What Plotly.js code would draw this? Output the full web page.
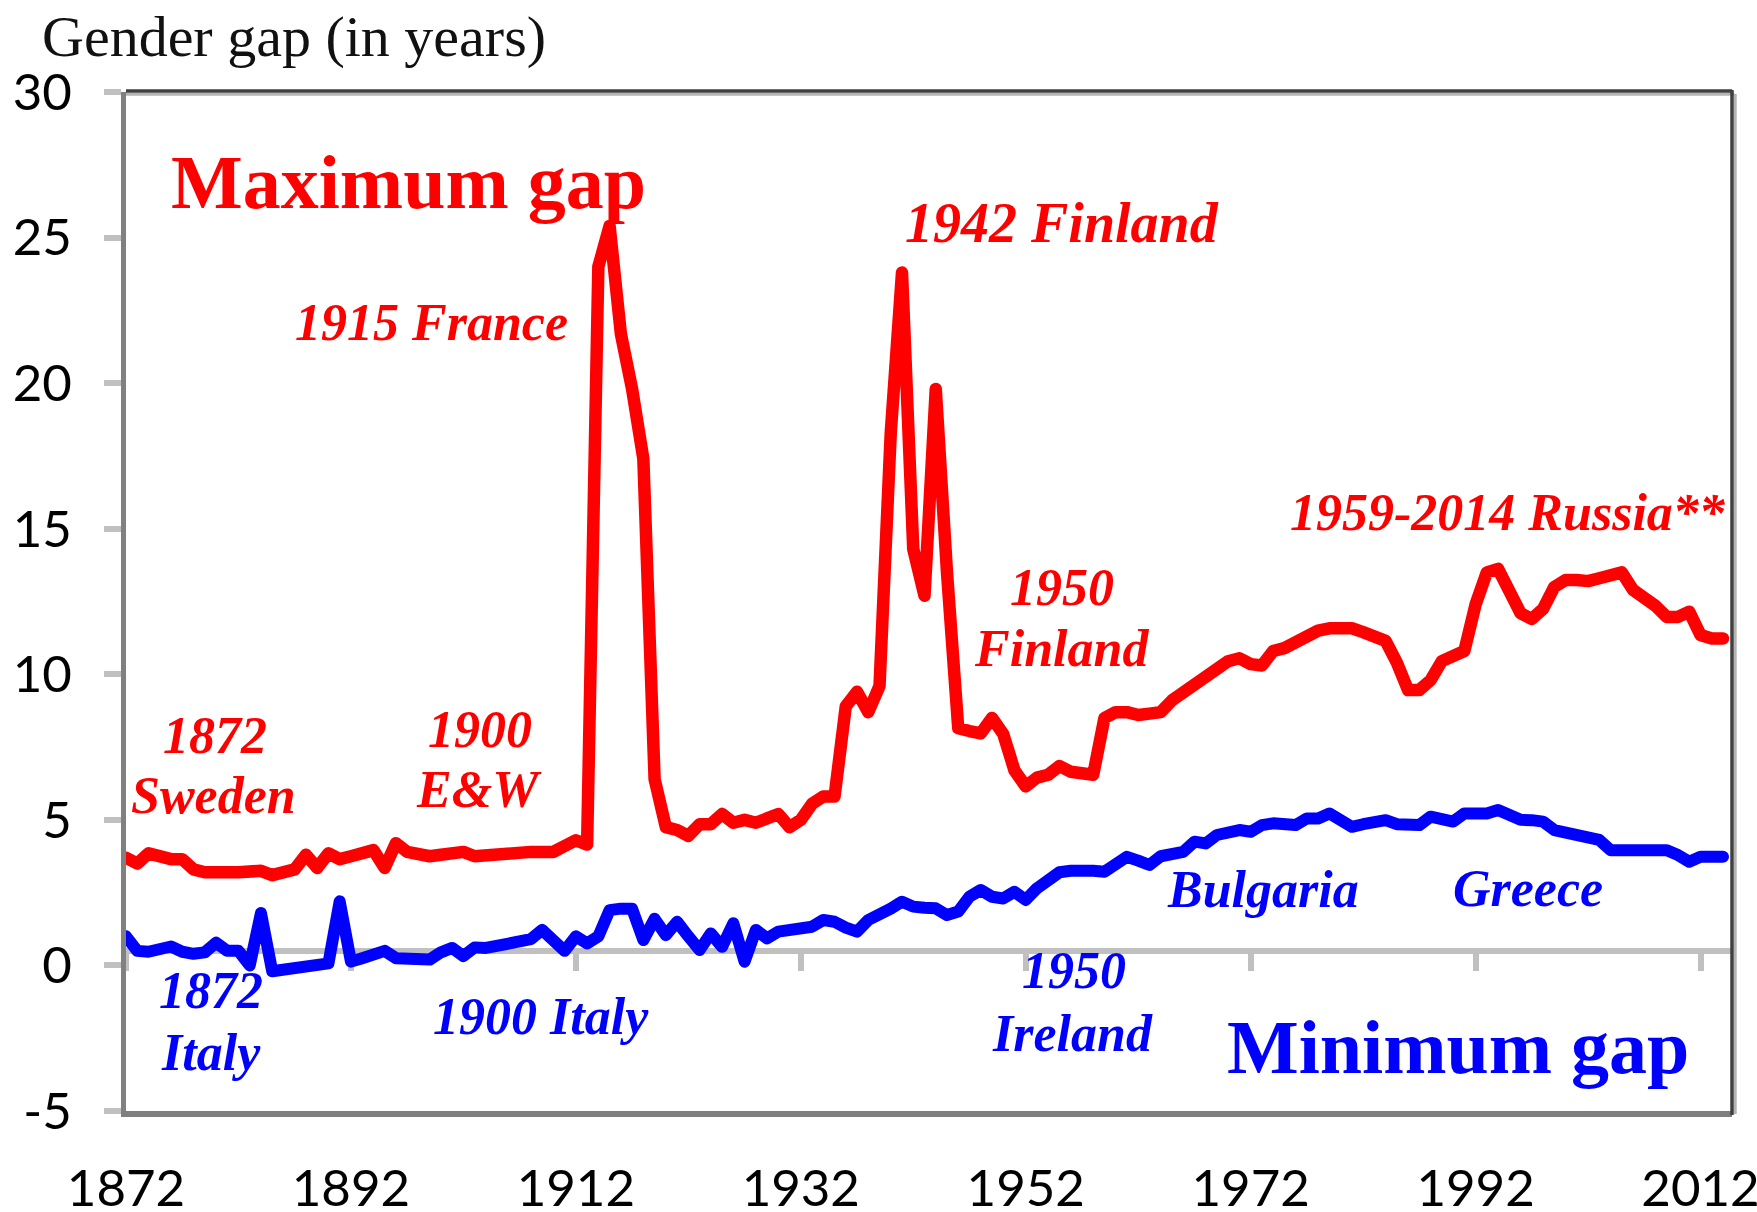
<!DOCTYPE html>
<html>
<head>
<meta charset="utf-8">
<script src="https://cdn.plot.ly/plotly-3.0.1.min.js"></script>
<style>
  html, body { margin: 0; padding: 0; background: #ffffff; }
  #chart { width: 1757px; height: 1212px; }
  .js-line { stroke-linejoin: round; stroke-linecap: round; }
</style>
</head>
<body>
<div id="chart"></div>
<script>
// ---- Data ----
const firstYear = 1872;
const lastYear = 2014;

// Maximum gender gap in life expectancy (years), 1872-2014
const maxGap = [
  3.7, 3.5, 3.85, 3.7, 3.65, 3.65, 3.3, 3.2,                 // 1872-1879
  3.15, 3.2, 3.2, 3.25, 3.25, 3.1, 3.15, 3.3, 3.8, 3.35,      // 1880s
  3.85, 3.65, 3.75, 3.9, 3.96, 3.35, 4.2, 3.9, 3.8, 3.75,     // 1890s
  3.8, 3.85, 3.9, 3.75, 3.8, 3.85, 3.85, 3.9, 3.9, 3.9,       // 1900s
  3.9, 4.1, 4.3, 4.15, 24.0, 25.4, 21.7, 19.8, 17.4, 6.4,     // 1910s
  4.75, 4.65, 4.45, 4.85, 4.85, 5.2, 4.9, 5.0, 4.9, 5.05,     // 1920s
  5.2, 4.75, 5.0, 5.55, 5.8, 5.8, 8.9, 9.4, 8.7, 9.6,         // 1930s
  18.3, 23.8, 14.3, 12.7, 19.8, 13.5, 8.15, 8.05, 7.97, 8.5,  // 1940s
  7.95, 6.7, 6.15, 6.45, 6.55, 6.85, 6.65, 6.6, 6.55, 8.5,    // 1950s
  8.7, 8.7, 8.6, 8.65, 8.7, 9.1, 9.35, 9.6, 9.95, 10.2,       // 1960s
  10.45, 10.55, 10.35, 10.3, 10.8, 10.9, 11.1, 11.4, 11.5, 11.58, // 1970s
  11.6, 11.58, 11.45, 11.3, 11.15, 10.4, 9.46, 9.46, 9.8, 10.45,  // 1980s
  10.66, 10.8, 12.4, 13.5, 13.62, 12.8, 12.1, 11.9, 12.25, 13.0,  // 1990s
  13.24, 13.24, 13.2, 13.3, 13.45, 13.5, 12.9, 12.65, 12.35, 11.97, // 2000s
  11.97, 12.15, 11.35, 11.23, 11.23                           // 2010-2014
];

// Minimum gender gap in life expectancy (years), 1872-2014
const minGap = [
  1.0, 0.5, 0.47, 0.6, 0.65, 0.47, 0.4, 0.45,                 // 1872-1879
  0.78, 0.5, 0.5, 0.0, 1.8, -0.2, -0.15, -0.1, 0.05, 0.1,     // 1880s
  0.07, 2.2, 0.13, 0.25, 0.35, 0.5, 0.25, 0.2, 0.2, 0.2,      // 1890s
  0.45, 0.6, 0.32, 0.62, 0.6, 0.68, 0.7, 0.75, 0.9, 1.22,     // 1900s
  0.85, 0.5, 1.0, 0.76, 1.0, 1.9, 1.95, 1.95, 0.87, 1.6,      // 1910s
  1.04, 1.5, 1.0, 0.53, 1.1, 0.64, 1.45, 0.13, 1.22, 0.93,    // 1920s
  1.16, 1.22, 1.27, 1.33, 1.56, 1.5, 1.3, 1.16, 1.56, 1.73,   // 1930s
  1.95, 2.19, 2.02, 1.98, 1.96, 1.73, 1.85, 2.36, 2.59, 2.36, // 1940s
  2.3, 2.53, 2.25, 2.65, 2.93, 3.2, 3.25, 3.28, 3.25, 3.22,   // 1950s
  3.45, 3.73, 3.6, 3.45, 3.75, 3.85, 3.9, 4.25, 4.19, 4.48,   // 1960s
  4.55, 4.65, 4.59, 4.82, 4.88, 4.88, 4.82, 5.05, 5.05, 5.22, // 1970s
  4.94, 4.76, 4.85, 4.9, 4.99, 4.85, 4.82, 4.82, 5.11, 5.0,   // 1980s
  4.94, 5.22, 5.22, 5.22, 5.34, 5.22, 5.0, 4.99, 4.94, 4.65,  // 1990s
  4.55, 4.48, 4.4, 4.31, 3.96, 3.96, 3.96, 3.96, 3.96, 3.96,  // 2000s
  3.79, 3.56, 3.73, 3.68, 3.73                                // 2010-2014
];

const xTickVals = [1872, 1892, 1912, 1932, 1952, 1972, 1992, 2012];
const yTickVals = [-5, 0, 5, 10, 15, 20, 25, 30];

// Text labels in the chart
const maxLabels = [
  { text: 'Maximum gap', x: 1897.1, y: 26.9, size: 76 },
  { text: '1915 France', x: 1899.2, y: 22.1, size: 52 },
  { text: '1942 Finland', x: 1955.2, y: 25.5, size: 56 },
  { text: '1872', x: 1879.9, y: 7.9, size: 52 },
  { text: 'Sweden', x: 1879.8, y: 5.85, size: 52 },
  { text: '1900', x: 1903.5, y: 8.1, size: 52 },
  { text: 'E&W', x: 1903.4, y: 6.05, size: 52 },
  { text: '1950', x: 1955.2, y: 12.99, size: 52 },
  { text: 'Finland', x: 1955.2, y: 10.90, size: 52 },
  { text: '1959-2014 Russia**', x: 1994.9, y: 15.55, size: 52 }
];
const minLabels = [
  { text: 'Minimum gap', x: 1990.4, y: -2.8, size: 76 },
  { text: '1872', x: 1879.6, y: -0.85, size: 52 },
  { text: 'Italy', x: 1879.6, y: -3.0, size: 52 },
  { text: '1900 Italy', x: 1908.9, y: -1.76, size: 52 },
  { text: '1950', x: 1956.3, y: -0.19, size: 52 },
  { text: 'Ireland', x: 1956.2, y: -2.33, size: 52 },
  { text: 'Bulgaria', x: 1973.1, y: 2.6, size: 52 },
  { text: 'Greece', x: 1996.7, y: 2.65, size: 52 }
];

// ---- Build chart ----
const years = [];
for (let yr = firstYear; yr <= lastYear; yr++) years.push(yr);

const traces = [
  {
    x: years, y: maxGap, type: 'scatter', mode: 'lines',
    line: { color: '#ff0000', width: 12.5 },
    hoverinfo: 'x+y', showlegend: false
  },
  {
    x: years, y: minGap, type: 'scatter', mode: 'lines',
    line: { color: '#0000ff', width: 12 },
    hoverinfo: 'x+y', showlegend: false
  },
  {
    x: [], y: [], xaxis: 'x2', yaxis: 'y', type: 'scatter', mode: 'lines',
    hoverinfo: 'skip', showlegend: false
  }
];

function mkAnn(l, color) {
  return {
    text: l.text, x: l.x, y: l.y, xref: 'x', yref: 'y',
    xanchor: 'center', yanchor: 'middle', showarrow: false,
    font: { family: 'Liberation Serif, Times New Roman, serif', size: l.size,
            color: color, weight: 'bold', style: l.size > 60 ? 'normal' : 'italic' }
  };
}
const annotations = maxLabels.map(l => mkAnn(l, '#ff0000'))
  .concat(minLabels.map(l => mkAnn(l, '#0000ff')));

const tickFont = { family: 'Lato, Open Sans, sans-serif', size: 51, color: '#000000' };
const xRange = [firstYear, 2014.8];

const layout = {
  width: 1757, height: 1212,
  margin: { l: 126, r: 25, t: 92, b: 101, pad: 0 },
  paper_bgcolor: '#ffffff', plot_bgcolor: '#ffffff',
  showlegend: false,
  title: {
    text: 'Gender gap (in years)',
    x: 42 / 1757, xanchor: 'left', xref: 'container',
    y: 1 - 36 / 1212, yanchor: 'middle', yref: 'container',
    font: { family: 'Liberation Serif, Times New Roman, serif', size: 58, color: '#111111' }
  },
  xaxis: {
    range: xRange, tickmode: 'array', tickvals: xTickVals,
    ticktext: xTickVals.map(String),
    ticks: '', showgrid: false, zeroline: false,
    showline: true, linecolor: '#7f7f7f', linewidth: 6,
    tickfont: tickFont, ticklabelstandoff: 28, ticklabeloverflow: 'allow',
    fixedrange: true
  },
  xaxis2: {
    overlaying: 'x', anchor: 'free', position: 0.1572, side: 'bottom',
    range: xRange, tickmode: 'array', tickvals: xTickVals,
    showticklabels: false, ticks: 'outside', ticklen: 17, tickwidth: 6,
    tickcolor: '#c0c0c0', showline: true, linecolor: '#c0c0c0', linewidth: 6,
    showgrid: false, zeroline: false, layer: 'below traces', fixedrange: true
  },
  yaxis: {
    range: [-5, 30], tickmode: 'array', tickvals: yTickVals,
    ticktext: yTickVals.map(String),
    ticks: 'outside', ticklen: 17, tickwidth: 6, tickcolor: '#c0c0c0',
    showline: true, linecolor: '#808080', linewidth: 5,
    showgrid: false, zeroline: false,
    tickfont: tickFont, ticklabelstandoff: 22, fixedrange: true
  },
  shapes: [
    { type: 'line', xref: 'paper', yref: 'paper', x0: 0, x1: 1.0015, y0: 0.9978, y1: 0.9978,
      line: { color: '#b4b4b4', width: 3 }, layer: 'above' },
    { type: 'line', xref: 'paper', yref: 'paper', x0: 0, x1: 1.0, y0: 1.001, y1: 1.001,
      line: { color: '#404040', width: 3.5 }, layer: 'above' },
    { type: 'line', xref: 'paper', yref: 'paper', x0: 1.002, x1: 1.002, y0: -0.003, y1: 0.998,
      line: { color: '#b4b4b4', width: 3 }, layer: 'above' },
    { type: 'line', xref: 'paper', yref: 'paper', x0: 1.0, x1: 1.0, y0: -0.004, y1: 1.002,
      line: { color: '#404040', width: 3.5 }, layer: 'above' }
  ],
  annotations: annotations
};

Plotly.newPlot('chart', traces, layout, { staticPlot: true, displayModeBar: false });
</script>
</body>
</html>
